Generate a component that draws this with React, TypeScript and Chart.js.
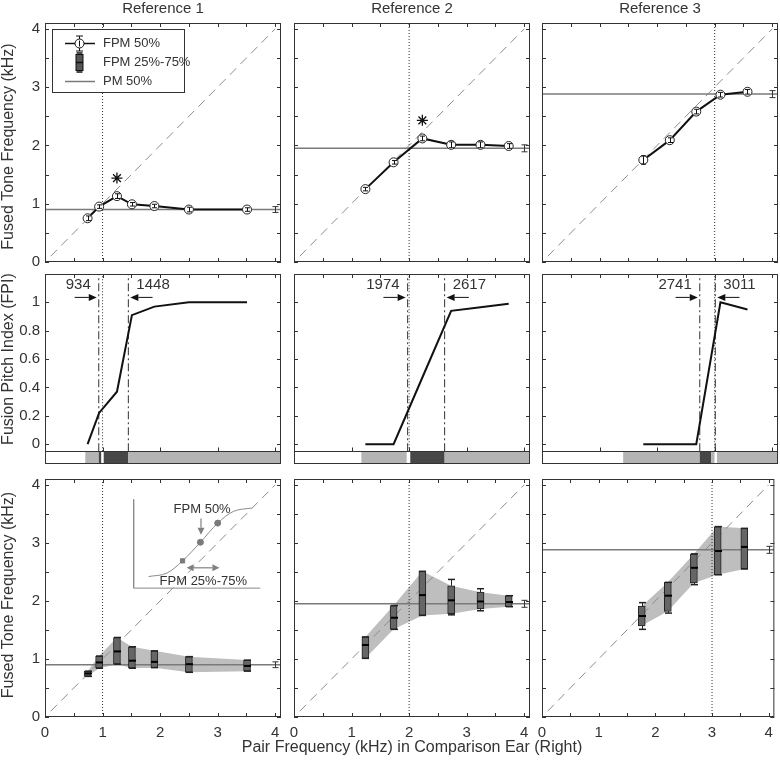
import React, { useEffect, useRef } from 'react';
import { Chart, registerables } from 'chart.js';

Chart.register(...registerables);

const FONT = "'Liberation Sans', Arial, Helvetica, sans-serif";
const TEXT = '#333333';
const AXIS = '#333333';

// ---------------- data ----------------
const referenceLabels = ['Reference 1', 'Reference 2', 'Reference 3'];
const referenceFreq = [1.0, 2.0, 3.0];
const yTitles = ['Fused Tone Frequency (kHz)', 'Fusion Pitch Index (FPI)', 'Fused Tone Frequency (kHz)'];
const xTitle = 'Pair Frequency (kHz) in Comparison Ear (Right)';

const freqTickVals = [0, 0.5, 1, 1.5, 2, 2.5, 3, 3.5, 4];
const fpiTickVals = [0, 0.2, 0.4, 0.6, 0.8, 1];

// pair frequencies in comparison ear (kHz)
const pairFreqRef1 = [0.74, 0.94, 1.25, 1.51, 1.9, 2.5, 3.51];
const pairFreqRef2 = [1.24, 1.73, 2.23, 2.73, 3.24, 3.73];
const pairFreqRef3 = [1.76, 2.22, 2.68, 3.1, 3.57];

// FPM 50% (kHz) with error
const fpm50Ref1 = [0.75, 0.95, 1.13, 0.99, 0.96, 0.9, 0.9];
const fpm50Ref2 = [1.25, 1.71, 2.12, 2.01, 2.01, 1.99];
const fpm50Ref3 = [1.75, 2.09, 2.58, 2.87, 2.92];
const fpmErrRef1 = [0.04, 0.03, 0.04, 0.03, 0.03, 0.04, 0.03];
const fpmErrRef2 = [0.03, 0.03, 0.04, 0.05, 0.05, 0.04];
const fpmErrRef3 = [0.07, 0.04, 0.04, 0.04, 0.04];

// PM 50% (kHz) with error, shown at 4 kHz
const pm50 = [0.9, 1.95, 2.88];
const pm50Err = [0.05, 0.06, 0.06];
const pmErrFreq = [4.0, 4.0, 4.0];

// significant points (asterisks) [x, y]
const asteriskRef1 = [1.25, 1.44];
const asteriskRef2 = [2.23, 2.43];

// identity line
const diagonalXY = [0.1, 4.0];

// fusion pitch index
const fpiRef1 = [0, 0.22, 0.37, 0.91, 0.97, 1.0, 1.0];
const fpiRef2 = [0, 0, 0.47, 0.94, 0.965, 0.99];
const fpiRef3 = [0, 0, 0, 1.0, 0.95];

// fusion range boundaries (Hz)
const fusionBoundsRef1 = [934, 1448];
const fusionBoundsRef2 = [1974, 2617];
const fusionBoundsRef3 = [2741, 3011];

// FPI strip: edges (kHz) and class (0 none, 1 light, 2 dark)
const stripEdgesRef1 = [0, 0.7, 0.934, 0.98, 1.02, 1.448, 4.1];
const stripClassRef1 = [0, 1, 2, 0, 2, 1];
const stripEdgesRef2 = [0, 1.17, 1.96, 2.02, 2.617, 4.1];
const stripClassRef2 = [0, 1, 0, 2, 1];
const stripEdgesRef3 = [0, 1.41, 2.741, 2.94, 3.0, 3.04, 4.1];
const stripClassRef3 = [0, 1, 2, 1, 0, 1];

// FPM quartiles (kHz)
const fpmQ1Ref1 = [0.7, 0.84, 0.91, 0.84, 0.85, 0.77, 0.79];
const fpmMedRef1 = [0.75, 0.94, 1.13, 0.97, 0.95, 0.91, 0.88];
const fpmQ3Ref1 = [0.79, 1.05, 1.37, 1.21, 1.14, 1.04, 0.98];
const fpmLoRef1 = [0.7, 0.84, 0.91, 0.84, 0.85, 0.77, 0.79];
const fpmHiRef1 = [0.79, 1.05, 1.37, 1.21, 1.14, 1.04, 0.98];

const fpmQ1Ref2 = [1.01, 1.51, 1.75, 1.78, 1.86, 1.9];
const fpmMedRef2 = [1.24, 1.71, 2.1, 2.01, 1.99, 1.98];
const fpmQ3Ref2 = [1.38, 1.92, 2.51, 2.26, 2.15, 2.09];
const fpmLoRef2 = [1.01, 1.51, 1.75, 1.76, 1.83, 1.9];
const fpmHiRef2 = [1.38, 1.92, 2.51, 2.37, 2.21, 2.09];

const fpmQ1Ref3 = [1.57, 1.82, 2.31, 2.45, 2.55];
const fpmMedRef3 = [1.74, 2.09, 2.57, 2.86, 2.93];
const fpmQ3Ref3 = [1.91, 2.32, 2.81, 3.28, 3.25];
const fpmLoRef3 = [1.51, 1.79, 2.28, 2.45, 2.55];
const fpmHiRef3 = [1.97, 2.32, 2.81, 3.28, 3.25];

// schematic inset (in panel units)
const insetAxisX = [1.54, 1.54, 3.74];
const insetAxisY = [3.75, 2.22, 2.22];
const insetCurveX = [1.8, 2.12, 2.39, 2.7, 3.0, 3.27, 3.59];
const insetCurveY = [2.42, 2.48, 2.69, 3.01, 3.34, 3.54, 3.6];
const insetMarkX = [2.39, 2.7, 3.0];
const insetMarkY = [2.69, 3.01, 3.34];
const insetDownArrow = [2.71, 3.42, 3.14];
const insetSpanArrow = [2.46, 3.03, 2.57];
const insetLabel50 = [2.73, 3.57];
const insetLabel2575 = [2.75, 2.33];

// ---------------- grouped views ----------------
const pairFreqs = [pairFreqRef1, pairFreqRef2, pairFreqRef3];
const fpm50s = [fpm50Ref1, fpm50Ref2, fpm50Ref3];
const fpmErrs = [fpmErrRef1, fpmErrRef2, fpmErrRef3];
const asterisks = [asteriskRef1, asteriskRef2, null];
const fpis = [fpiRef1, fpiRef2, fpiRef3];
const fusionBounds = [fusionBoundsRef1, fusionBoundsRef2, fusionBoundsRef3];
const stripEdges = [stripEdgesRef1, stripEdgesRef2, stripEdgesRef3];
const stripClasses = [stripClassRef1, stripClassRef2, stripClassRef3];
const q1s = [fpmQ1Ref1, fpmQ1Ref2, fpmQ1Ref3];
const meds = [fpmMedRef1, fpmMedRef2, fpmMedRef3];
const q3s = [fpmQ3Ref1, fpmQ3Ref2, fpmQ3Ref3];
const los = [fpmLoRef1, fpmLoRef2, fpmLoRef3];
const his = [fpmHiRef1, fpmHiRef2, fpmHiRef3];

// ---------------- layout / style ----------------
const X_MAX = 4.1;
const Y_RANGES = [[0, 4.1], [-0.14, 1.2], [0, 4.1]];
const STRIP_TOP = -0.05;
const FPI_LABEL_Y = 1.125;
const FPI_ARROW_Y = 1.035;
const ARROW_SPAN = 0.42;
const COL_LEFT = [45, 294, 542];
const PLOT_W = 236;
const ROW_TOP = [23, 274, 479];
const ROW_H = [239, 190, 238];
const STRIP_COLORS = ['#ffffff', '#b4b4b4', '#474747'];

function pads(row: number, col: number) {
  const wide = row === 2 && col === 1;
  return {
    padL: col === 0 ? 45 : wide ? 60 : 14,
    padR: wide ? 60 : col === 2 ? 2 : 14,
    padT: row === 0 ? 23 : 16,
    padB: row === 2 ? 42 : 16,
  };
}

const pts = (xs: number[], ys: number[]) => xs.map((x, i) => ({ x, y: ys[i] }));
const sx = (c: any, v: number) => c.scales.x.getPixelForValue(v);
const sy = (c: any, v: number) => c.scales.y.getPixelForValue(v);
const crisp = (v: number) => Math.round(v) + 0.5;

function seg(ctx: CanvasRenderingContext2D, x1: number, y1: number, x2: number, y2: number) {
  ctx.beginPath();
  ctx.moveTo(x1, y1);
  ctx.lineTo(x2, y2);
  ctx.stroke();
}

function arrow(ctx: CanvasRenderingContext2D, x1: number, y1: number, x2: number, y2: number, head = 8, half = 3.5) {
  const a = Math.atan2(y2 - y1, x2 - x1);
  const c = Math.cos(a), s = Math.sin(a);
  seg(ctx, x1, y1, x2 - head * c, y2 - head * s);
  ctx.beginPath();
  ctx.moveTo(x2, y2);
  ctx.lineTo(x2 - head * c - half * s, y2 - head * s + half * c);
  ctx.lineTo(x2 - head * c + half * s, y2 - head * s - half * c);
  ctx.closePath();
  ctx.fill();
}

function errorBar(ctx: CanvasRenderingContext2D, c: any, x: number, y: number, e: number, half: number) {
  const X = crisp(sx(c, x));
  const y1 = sy(c, y - e), y2 = sy(c, y + e);
  seg(ctx, X, y1, X, y2);
  seg(ctx, X - half, y1, X + half, y1);
  seg(ctx, X - half, y2, X + half, y2);
}

function buildDatasets(row: number, col: number) {
  const ref = referenceFreq[col];
  const pf = pairFreqs[col];
  const yMax = Y_RANGES[row][1];
  const ds: any[] = [];
  if (row === 0) {
    ds.push({ label: 'FPM 50%', data: pts(pf, fpm50s[col]), borderColor: '#111', borderWidth: 2, pointStyle: 'circle', pointRadius: 4.5, pointBackgroundColor: '#fff', pointBorderColor: '#222', pointBorderWidth: 1, order: 0 });
    const star = asterisks[col];
    if (star) ds.push({ label: 'significant', data: [{ x: star[0], y: star[1] }], showLine: false, pointStyle: 'star', pointRadius: 5.5, pointBorderColor: '#111', pointBorderWidth: 1.3, order: 1 });
  }
  if (row === 1) {
    ds.push({ label: 'FPI', data: pts(pf, fpis[col]), borderColor: '#111', borderWidth: 2, pointRadius: 0, order: 0 });
    fusionBounds[col].forEach((b) => {
      ds.push({ label: 'bound ' + b, data: pts([b / 1000, b / 1000], [STRIP_TOP, yMax]), borderColor: '#333', borderWidth: 1, borderDash: [8, 3, 2, 3], pointRadius: 0, order: 2 });
    });
  }
  if (row === 2) {
    ds.push({ label: 'IQR upper', data: pts(pf, q3s[col]), borderColor: 'rgba(0,0,0,0)', borderWidth: 1, backgroundColor: '#bebebe', fill: '+1', pointRadius: 0, order: 9 });
    ds.push({ label: 'IQR lower', data: pts(pf, q1s[col]), borderColor: 'rgba(0,0,0,0)', borderWidth: 1, fill: false, pointRadius: 0, order: 9 });
    ds.push({ type: 'bar', label: 'FPM 25%-75%', data: pf.map((x, i) => ({ x, y: [q1s[col][i], q3s[col][i]] })), backgroundColor: '#666666', borderColor: '#222', borderWidth: 1, borderSkipped: false, barThickness: 7, grouped: false, order: -1 });
    if (col === 0) {
      ds.push({ label: 'inset axes', data: pts(insetAxisX, insetAxisY), borderColor: '#8a8a8a', borderWidth: 1, pointRadius: 0, order: 6 });
      ds.push({ label: 'inset curve', data: pts(insetCurveX, insetCurveY), borderColor: '#8a8a8a', borderWidth: 1, pointRadius: 0, cubicInterpolationMode: 'monotone', order: 6 });
      ds.push({ label: 'inset marks', data: pts(insetMarkX, insetMarkY), showLine: false, pointStyle: ['rect', 'circle', 'circle'], pointRadius: 3, pointBackgroundColor: '#7a7a7a', pointBorderColor: '#7a7a7a', order: 5 });
    }
  }
  if (row !== 1) {
    ds.push({ label: 'PM 50%', data: pts([0, X_MAX], [pm50[col], pm50[col]]), borderColor: '#7a7a7a', borderWidth: 1.5, pointRadius: 0, order: 3 });
    ds.push({ label: 'identity', data: pts(diagonalXY, diagonalXY), borderColor: '#8c8c8c', borderWidth: 1, borderDash: [9, 6], pointRadius: 0, order: 4 });
  }
  ds.push({ label: 'reference', data: pts([ref, ref], [row === 1 ? STRIP_TOP : 0, yMax]), borderColor: '#333', borderWidth: 1, borderDash: [1, 2], pointRadius: 0, order: 5 });
  return ds;
}

function decorPlugin(row: number, col: number) {
  return {
    id: `decor_${row}_${col}`,
    beforeDatasetsDraw(c: any) {
      if (row !== 1) return;
      const ctx = c.ctx as CanvasRenderingContext2D;
      const { left, right, bottom } = c.chartArea;
      const yTop = sy(c, STRIP_TOP);
      const edges = stripEdges[col];
      const cls = stripClasses[col];
      ctx.save();
      for (let i = 0; i < cls.length; i++) {
        const x1 = sx(c, edges[i]);
        const x2 = sx(c, Math.min(edges[i + 1], X_MAX));
        ctx.fillStyle = STRIP_COLORS[cls[i]];
        ctx.fillRect(x1, yTop, x2 - x1, bottom - yTop);
      }
      ctx.strokeStyle = AXIS;
      ctx.lineWidth = 1;
      seg(ctx, left, crisp(yTop), right, crisp(yTop));
      ctx.restore();
    },
    afterDatasetsDraw(c: any) {
      const ctx = c.ctx as CanvasRenderingContext2D;
      const { left, right, top, bottom } = c.chartArea;
      const pf = pairFreqs[col];
      ctx.save();
      ctx.lineWidth = 1;
      ctx.strokeStyle = '#111';
      ctx.fillStyle = '#111';
      if (row === 0) {
        pf.forEach((x, i) => errorBar(ctx, c, x, fpm50s[col][i], fpmErrs[col][i], 2.5));
      }
      if (row === 2) {
        pf.forEach((x, i) => {
          const X = crisp(sx(c, x));
          ctx.strokeStyle = '#222';
          ctx.lineWidth = 1;
          seg(ctx, X, sy(c, q3s[col][i]), X, sy(c, his[col][i]));
          seg(ctx, X, sy(c, q1s[col][i]), X, sy(c, los[col][i]));
          ctx.lineWidth = 1.5;
          seg(ctx, X - 3.5, sy(c, his[col][i]), X + 3.5, sy(c, his[col][i]));
          seg(ctx, X - 3.5, sy(c, los[col][i]), X + 3.5, sy(c, los[col][i]));
          ctx.strokeStyle = '#000';
          ctx.lineWidth = 2;
          seg(ctx, X - 3.5, sy(c, meds[col][i]), X + 3.5, sy(c, meds[col][i]));
        });
      }
      if (row !== 1) {
        ctx.strokeStyle = '#333';
        ctx.lineWidth = 1;
        errorBar(ctx, c, pmErrFreq[col], pm50[col], pm50Err[col], 3);
      }
      if (row === 1) {
        const [bA, bB] = fusionBounds[col];
        const xA = sx(c, bA / 1000), xB = sx(c, bB / 1000);
        const yT = sy(c, FPI_LABEL_Y), yA = sy(c, FPI_ARROW_Y);
        ctx.font = `15px ${FONT}`;
        ctx.fillStyle = TEXT;
        ctx.textBaseline = 'middle';
        ctx.textAlign = 'right';
        ctx.fillText(String(bA), xA - 8, yT);
        ctx.textAlign = 'left';
        ctx.fillText(String(bB), xB + 8, yT);
        ctx.strokeStyle = '#111';
        ctx.fillStyle = '#111';
        ctx.lineWidth = 1;
        arrow(ctx, sx(c, bA / 1000 - ARROW_SPAN), yA, xA - 2, yA);
        arrow(ctx, sx(c, bB / 1000 + ARROW_SPAN), yA, xB + 2, yA);
      }
      if (row === 2 && col === 0) {
        ctx.strokeStyle = '#808080';
        ctx.fillStyle = '#808080';
        ctx.lineWidth = 1.2;
        const ax = sx(c, insetDownArrow[0]);
        arrow(ctx, ax, sy(c, insetDownArrow[1]), ax, sy(c, insetDownArrow[2]), 7, 3.5);
        const mid = (insetSpanArrow[0] + insetSpanArrow[1]) / 2;
        const ay = sy(c, insetSpanArrow[2]);
        arrow(ctx, sx(c, mid), ay, sx(c, insetSpanArrow[0]), ay, 7, 3.5);
        arrow(ctx, sx(c, mid), ay, sx(c, insetSpanArrow[1]), ay, 7, 3.5);
        ctx.font = `13px ${FONT}`;
        ctx.fillStyle = TEXT;
        ctx.textAlign = 'center';
        ctx.textBaseline = 'middle';
        ctx.fillText('FPM 50%', sx(c, insetLabel50[0]), sy(c, insetLabel50[1]));
        ctx.fillText('FPM 25%-75%', sx(c, insetLabel2575[0]), sy(c, insetLabel2575[1]));
      }

      // frame and inward ticks
      ctx.strokeStyle = AXIS;
      ctx.lineWidth = 1;
      ctx.strokeRect(left + 0.5, top + 0.5, right - left - 1, bottom - top - 1);
      const TL = 4;
      const yStrip = row === 1 ? crisp(sy(c, STRIP_TOP)) : bottom;
      freqTickVals.forEach((v) => {
        const X = crisp(sx(c, v));
        seg(ctx, X, top, X, top + TL);
        if (row !== 1) seg(ctx, X, bottom, X, bottom - TL);
        else if (Number.isInteger(v)) seg(ctx, X, yStrip, X, yStrip - TL);
      });
      (row === 1 ? fpiTickVals : freqTickVals).forEach((v) => {
        const Y = crisp(sy(c, v));
        seg(ctx, left, Y, left + TL, Y);
        seg(ctx, right, Y, right - TL, Y);
      });

      // legend
      if (row === 0 && col === 0) {
        const bx = left + 7, by = top + 6, bw = 132, bh = 63;
        ctx.fillStyle = '#fff';
        ctx.fillRect(bx, by, bw, bh);
        ctx.strokeStyle = AXIS;
        ctx.strokeRect(bx + 0.5, by + 0.5, bw, bh);
        const r1 = top + 20.5, r2 = top + 39.5, r3 = top + 58.5;
        const s0 = left + 20, s1 = left + 50, cx = left + 34.5;
        ctx.strokeStyle = '#111';
        ctx.lineWidth = 1.5;
        seg(ctx, s0, r1, s1, r1);
        ctx.lineWidth = 1;
        seg(ctx, cx, r1 - 7.5, cx, r1 + 7.5);
        seg(ctx, cx - 3.5, r1 - 7.5, cx + 3.5, r1 - 7.5);
        seg(ctx, cx - 3.5, r1 + 7.5, cx + 3.5, r1 + 7.5);
        ctx.beginPath();
        ctx.arc(cx, r1, 4.5, 0, Math.PI * 2);
        ctx.fillStyle = '#fff';
        ctx.fill();
        ctx.stroke();
        seg(ctx, cx, r1 - 3, cx, r1 + 3);
        ctx.fillStyle = '#555';
        ctx.fillRect(cx - 3.5, r2 - 8, 7, 16);
        ctx.strokeStyle = '#111';
        ctx.strokeRect(cx - 3.5, r2 - 8, 7, 16);
        ctx.lineWidth = 1.5;
        seg(ctx, cx - 3.5, r2, cx + 3.5, r2);
        seg(ctx, cx - 3, r2 - 9.5, cx + 3, r2 - 9.5);
        seg(ctx, cx - 3, r2 + 9.5, cx + 3, r2 + 9.5);
        ctx.strokeStyle = '#7a7a7a';
        ctx.lineWidth = 1.5;
        seg(ctx, s0, r3, s1, r3);
        ctx.font = `13px ${FONT}`;
        ctx.fillStyle = TEXT;
        ctx.textAlign = 'left';
        ctx.textBaseline = 'middle';
        ctx.fillText('FPM 50%', left + 58, r1);
        ctx.fillText('FPM 25%-75%', left + 58, r2);
        ctx.fillText('PM 50%', left + 58, r3);
      }
      ctx.restore();
    },
    afterDraw(c: any) {
      const ctx = c.ctx as CanvasRenderingContext2D;
      const { left, right, top, bottom } = c.chartArea;
      ctx.save();
      ctx.fillStyle = TEXT;
      ctx.font = `16px ${FONT}`;
      ctx.textAlign = 'center';
      ctx.textBaseline = 'middle';
      if (col === 0) {
        const cy = row === 1 ? (sy(c, 0) + top) / 2 : (top + bottom) / 2 + (row === 0 ? 4 : -3);
        const topOfCanvas = ROW_TOP[row] - pads(row, col).padT;
        ctx.save();
        ctx.translate(8.5, cy);
        ctx.rotate(-Math.PI / 2);
        ctx.fillText(yTitles[row], 0, 0);
        ctx.restore();
        void topOfCanvas;
      }
      if (row === 2 && col === 1) {
        ctx.fillText(xTitle, (left + right) / 2, bottom + 31);
      }
      ctx.restore();
    },
  };
}

function buildConfig(row: number, col: number): any {
  const p = pads(row, col);
  const yTicks = row === 1 ? fpiTickVals : freqTickVals;
  return {
    type: 'line',
    data: { datasets: buildDatasets(row, col) },
    options: {
      animation: false,
      responsive: false,
      devicePixelRatio: 1,
      events: [],
      layout: { autoPadding: false, padding: { top: row === 0 ? 0 : p.padT, right: p.padR, left: 0, bottom: 0 } },
      scales: {
        x: {
          type: 'linear',
          min: 0,
          max: X_MAX,
          offset: false,
          grid: { display: false, drawTicks: false, offset: false },
          border: { display: false },
          afterBuildTicks: (s: any) => { s.ticks = freqTickVals.map((v) => ({ value: v })); },
          afterFit: (s: any) => { s.height = p.padB; },
          ticks: {
            display: row === 2,
            autoSkip: false,
            maxRotation: 0,
            padding: 7,
            color: TEXT,
            font: { size: 15, family: FONT },
            callback: (v: number) => (Number.isInteger(v) ? String(v) : ''),
          },
        },
        y: {
          type: 'linear',
          min: Y_RANGES[row][0],
          max: Y_RANGES[row][1],
          grid: { display: false, drawTicks: false },
          border: { display: false },
          afterBuildTicks: (s: any) => { s.ticks = yTicks.map((v) => ({ value: v })); },
          afterFit: (s: any) => { s.width = p.padL; },
          ticks: {
            display: col === 0,
            autoSkip: false,
            padding: 5,
            color: TEXT,
            font: { size: 15, family: FONT },
            callback: (v: number) => (row === 1 ? String(parseFloat(v.toFixed(1))) : Number.isInteger(v) ? String(v) : ''),
          },
        },
      },
      plugins: {
        legend: { display: false },
        tooltip: { enabled: false },
        colors: { enabled: false },
        title: {
          display: row === 0,
          text: referenceLabels[col],
          fullSize: false,
          color: TEXT,
          font: { size: 15, weight: 'normal', family: FONT, lineHeight: 1.2 },
          padding: { top: 0, bottom: 5 },
        },
      },
    },
    plugins: [decorPlugin(row, col)],
  };
}

function Panel({ row, col }: { row: number; col: number }) {
  const ref = useRef<HTMLCanvasElement>(null);
  useEffect(() => {
    const chart = new Chart(ref.current as HTMLCanvasElement, buildConfig(row, col));
    return () => chart.destroy();
  }, [row, col]);
  const p = pads(row, col);
  const left = COL_LEFT[col] - p.padL;
  const top = ROW_TOP[row] - p.padT;
  const w = PLOT_W + p.padL + p.padR;
  const h = ROW_H[row] + p.padT + p.padB;
  return (
    <canvas
      ref={ref}
      width={w}
      height={h}
      style={{ position: 'absolute', left, top, width: w, height: h }}
    />
  );
}

export default function App() {
  const cells: any[] = [];
  for (let r = 0; r < 3; r++) for (let c = 0; c < 3; c++) cells.push(<Panel key={`${r}-${c}`} row={r} col={c} />);
  return (
    <div style={{ position: 'absolute', left: 0, top: 0, width: 780, height: 760, overflow: 'hidden', background: '#fff' }}>
      {cells}
    </div>
  );
}
